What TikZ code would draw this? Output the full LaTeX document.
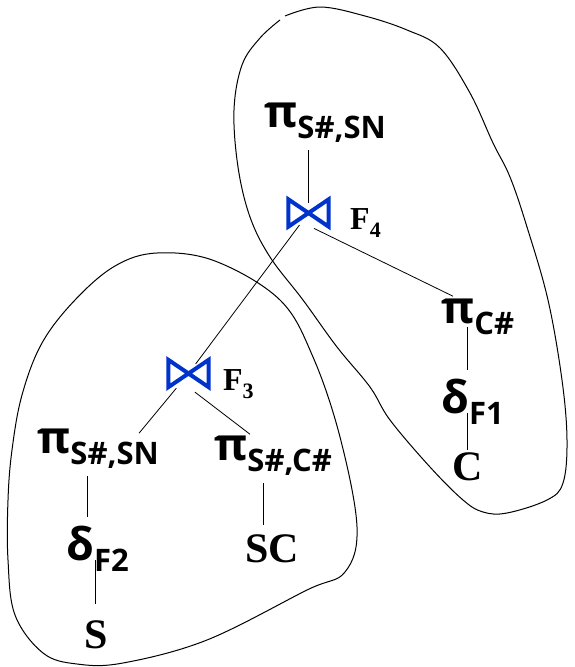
\documentclass[tikz,border=0pt]{standalone}
\usepackage{fontspec}
\setmainfont{Liberation Serif}
\newfontfamily\greekfam{Open Sans}
\usetikzlibrary{positioning}
\definecolor{joinblue}{RGB}{0,51,204}
\newcommand{\opsym}[2]{{\greekfam\bfseries\fontsize{45}{47}\selectfont #1\raisebox{-11pt}{\fontsize{31}{33}\selectfont #2}}}
\newcommand{\cond}[2]{{\bfseries\fontsize{32}{34}\selectfont #1\raisebox{-8pt}{\fontsize{22}{24}\selectfont #2}}}
\tikzstyle{opnode} = [inner xsep=0pt, inner ysep=8pt, anchor=base west]
\tikzstyle{relnode} = [inner sep=2pt, anchor=base west, font=\bfseries\fontsize{42}{44}\selectfont]
\tikzstyle{condnode} = [inner sep=0pt, anchor=base west]
\tikzstyle{joinnode} = [minimum width=40pt, minimum height=27pt, inner sep=0pt]
\tikzstyle{bowtie} = [draw=joinblue, line width=4pt, line join=miter]
\tikzstyle{link} = [line width=0.8pt]
\tikzstyle{fragline} = [line width=1pt]

\begin{document}
\begin{tikzpicture}[x=1pt, y=-1pt]
\useasboundingbox (0,0) rectangle (575,667);

% Upper fragment
\node (ptop) [opnode] at (264,127) {\opsym{π}{S\#,SN}};
\node (j4) [joinnode] at (308.5,213) {};
\node (f4) [condnode] at (350,229) {\cond{F}{4}};
\node (pc) [opnode] at (441,323) {\opsym{π}{C\#}};
\node (dc) [opnode] at (441,413) {\opsym{δ}{F1}};
\node (c) [relnode] at (450,480) {C};

% Lower fragment
\node (j3) [joinnode] at (188.5,373.5) {};
\node (f3) [condnode] at (223,390) {\cond{F}{3}};
\node (psn) [opnode] at (37,453) {\opsym{π}{S\#,SN}};
\node (psc) [opnode] at (214,460) {\opsym{π}{S\#,C\#}};
\node (df2) [opnode] at (66,560) {\opsym{δ}{F2}};
\node (s) [relnode] at (82,648) {S};
\node (sc) [relnode] at (243,562) {SC};

% Join symbols
\draw[bowtie] (j4.north west) -- (j4.south west) -- (j4.north east) -- (j4.south east) -- cycle;
\draw[bowtie] (j3.north west) -- (j3.south west) -- (j3.north east) -- (j3.south east) -- cycle;

% Tree edges
\draw[link] (ptop.south -| j4) -- ([yshift=-4pt]j4.north);
\draw[link, shorten <=15pt, shorten >=12pt] (j4.center) -- (j3.center);
\draw[link, shorten <=4pt] ([xshift=2pt]j4.south) -- ([xshift=12pt, yshift=-6pt]pc.north west);
\draw[link, shorten <=4pt] (pc.base -| c) -- (dc.north -| c);
\draw[link] (dc.base -| c) -- (c.north);
\draw[link, shorten <=19pt] (j3.center) -- ([xshift=-20pt, yshift=-13pt]psn.north east);
\draw[link, shorten <=8pt] (j3.south) -- ([xshift=36pt, yshift=-7pt]psc.north west);
\draw[link] ([xshift=50pt]psn.south west) -- ([xshift=21pt]df2.north west);
\draw[link] (df2.base -| s) -- ([yshift=14pt]s.north);
\draw[link] ([xshift=49pt]psc.south west) -- ([xshift=20pt, yshift=7pt]sc.north west);

% Fragment outlines
\draw[fragline] plot[smooth, tension=0.6] coordinates {(285,16) (320,7) (365,16) (407,30) (440,48) (470,93) (493,143) (510,177) (527,227) (548,300) (562,380) (567,440) (563,483) (547,500) (507,513) (483,512) (463,500) (430,467) (390,420) (370,387) (337,347) (303,300) (270,257) (250,217) (238,167) (234,110) (242,65) (260,38) (280,20)};
\draw[fragline] plot[smooth cycle, tension=0.6] coordinates {(157,253) (215,261) (280,300) (313,357) (340,437) (357,527) (345,572) (307,590) (207,640) (123,663) (77,664) (43,653) (15,615) (8,560) (8,500) (12,450) (22,395) (42,343) (75,300) (115,266)};

\end{tikzpicture}
\end{document}
